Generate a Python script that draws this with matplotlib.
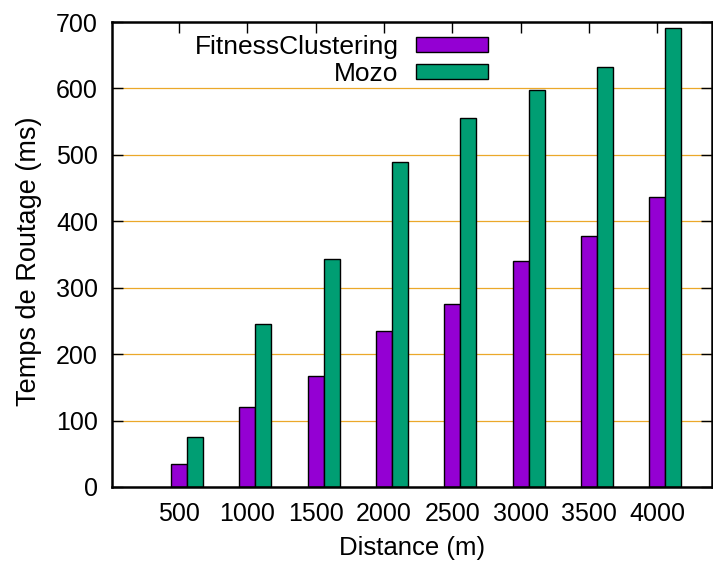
import numpy as np
import matplotlib.pyplot as plt

plt.rcParams['font.family'] = ['Liberation Sans', 'DejaVu Sans']

# routing time vs distance
distances = ['500', '1000', '1500', '2000', '2500', '3000', '3500', '4000']
fitness = [35, 120, 167, 235, 275, 340, 378, 437]
mozo = [75, 245, 343, 489, 555, 597, 633, 691]

fs = 18
w = 0.235
x = np.arange(len(distances))

fig = plt.figure(figsize=(7.13, 5.65), dpi=100)
ax = fig.add_axes([112/713, 1-487/565, 600/713, 465/565])

ax.bar(x, fitness, w, align='edge', color='#9400d3', edgecolor='black',
       linewidth=1, label='FitnessClustering', zorder=3)
ax.bar(x + w, mozo, w, align='edge', color='#009e73', edgecolor='black',
       linewidth=1, label='Mozo', zorder=3)
# shift so the purple bar is centred on the tick
for p in ax.patches:
    p.set_x(p.get_x() - w/2)

ax.set_xlim(-0.98, 7.8)
ax.set_ylim(0, 700)
ax.set_xticks(x)
ax.set_xticklabels(distances)
ax.set_yticks(np.arange(0, 701, 100))

for yv in range(100, 700, 100):
    ax.axhline(yv, color='#eba82a', lw=0.9, zorder=1)

ax.tick_params(axis='x', direction='in', length=8, width=1, top=True, pad=11, labelsize=fs)
ax.tick_params(axis='y', direction='in', length=8, width=1, right=True, pad=10, labelsize=fs)
for s in ax.spines.values():
    s.set_linewidth(1.8)
    s.set_zorder(4)

ax.set_xlabel('Distance (m)', fontsize=18.5, labelpad=7)
ax.set_ylabel('Temps de Routage (ms)', fontsize=19.5)
ax.yaxis.set_label_coords(-0.117, 0.485)

ax.legend(loc='upper right', bbox_to_anchor=(0.627, 0.972), frameon=False,
          markerfirst=False, fontsize=19, handlelength=2.75, handleheight=0.5,
          handletextpad=0.65, labelspacing=0.12, borderpad=0, borderaxespad=0)

fig.savefig('out.png', dpi=100)
